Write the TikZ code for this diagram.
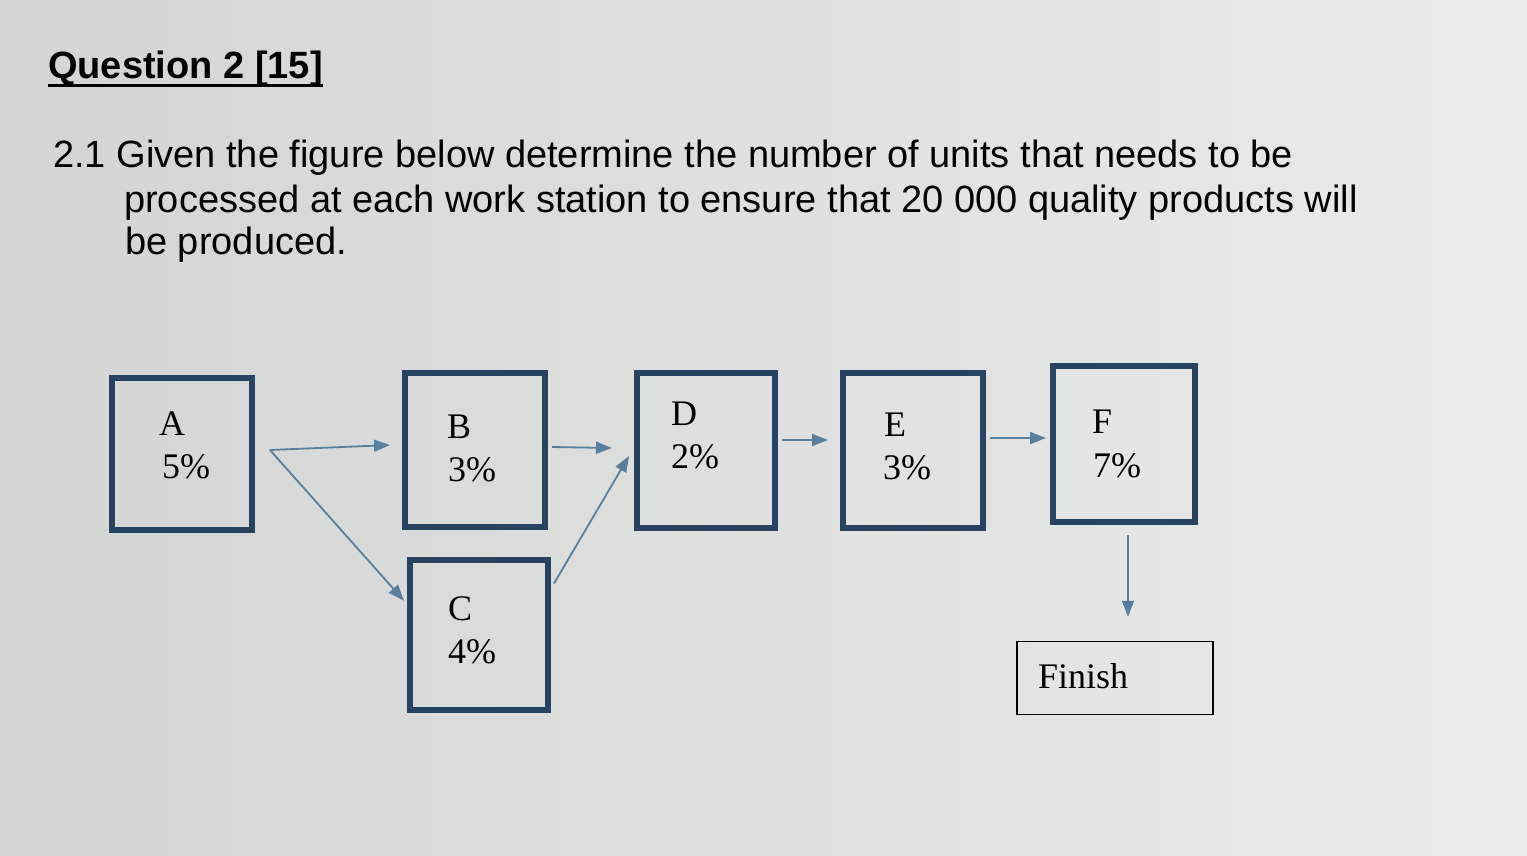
\documentclass[tikz,border=0pt]{standalone}
\usepackage{fontspec}
\setmainfont{Liberation Serif}
\newfontfamily\arial{Liberation Sans}
\usetikzlibrary{arrows.meta,calc}
\definecolor{bgL}{RGB}{210,213,211}
\definecolor{bgR}{RGB}{234,236,234}
\definecolor{boxc}{RGB}{38,68,98}
\definecolor{arrc}{RGB}{88,128,158}
\tikzset{
  station/.style={draw=boxc, line width=6pt, rectangle, inner sep=0pt},
  lbl/.style={anchor=base west, inner sep=0pt, font=\fontsize{36}{36}\selectfont},
  qtext/.style={anchor=base west, inner sep=0pt, font=\arial\fontsize{38}{38}\selectfont},
  arr/.style={draw=arrc, line width=1.8pt, -{Triangle[length=16pt,width=12pt]}},
}
\begin{document}
\begin{tikzpicture}[x=1pt,y=-1pt]
\shade[left color=bgL, right color=bgR] (0,0) rectangle (1527,855);
\useasboundingbox (0,0) rectangle (1527,855);
% heading
\node[qtext, font=\arial\bfseries\fontsize{38}{38}\selectfont] (title) at (48,78) {Question 2 [15]};
\draw[line width=3pt] ([yshift=-7pt]title.base west) -- ([yshift=-7pt]title.base east);
\node[qtext] (q1) at (53,167) {2.1 Given the figure below determine the number of units that needs to be};
\node[qtext] (q2) at (124,212) {processed at each work station to ensure that 20 000 quality products will};
\node[qtext] (q3) at (125,254) {be produced.};
% stations
\node[station, minimum width=140pt, minimum height=152pt] (A) at (182,454) {};
\node[station, minimum width=140pt, minimum height=154pt] (B) at (475,450) {};
\node[station, minimum width=138pt, minimum height=150pt] (C) at (479,635) {};
\node[station, minimum width=138pt, minimum height=155pt] (D) at (706,450) {};
\node[station, minimum width=140pt, minimum height=155pt] (E) at (913,450) {};
\node[station, minimum width=142pt, minimum height=156pt] (F) at (1124,444) {};
\node[draw=black, line width=1.5pt, minimum width=196pt, minimum height=73pt, inner sep=0pt] (fin) at (1115,678) {};
% labels
\node[lbl] (Al) at (159,435) {A};
\node[lbl] (Ap) at (162,478) {5\%};
\node[lbl] (Bl) at (447,438) {B};
\node[lbl] (Bp) at (448,481) {3\%};
\node[lbl] (Cl) at (448,620) {C};
\node[lbl] (Cp) at (448,663) {4\%};
\node[lbl] (Dl) at (671,425) {D};
\node[lbl] (Dp) at (671,468) {2\%};
\node[lbl] (El) at (884,436) {E};
\node[lbl] (Ep) at (883,479) {3\%};
\node[lbl] (Fl) at (1092,433) {F};
\node[lbl] (Fp) at (1093,477) {7\%};
\node[lbl] (fl) at (1038,688) {Finish};
% connectors
\coordinate (split) at (270,450);
\draw[arr] (split) -- ([xshift=-12pt,yshift=5pt]B.west);
\draw[arr] (split) -- ($(C.north west)!0.28!(C.south west)+(-3,0)$);
\draw[arr] ([xshift=4pt,yshift=3pt]B.east) -- ([xshift=-22pt,yshift=2pt]D.west);
\draw[arr] ($(C.north east)!0.17!(C.south east)+(3,0)$) -- ([xshift=-5pt,yshift=-6pt]D.west);
\draw[arr] ([xshift=4pt,yshift=10pt]D.east) -- ([xshift=-12pt,yshift=10pt]E.west);
\draw[arr] ([xshift=4pt,yshift=12pt]E.east) -- ([xshift=-4pt,yshift=6pt]F.west);
\draw[arr] ([xshift=4pt,yshift=-10pt]F.south) -- ([xshift=13pt,yshift=24pt]fin.north);
\end{tikzpicture}
\end{document}
